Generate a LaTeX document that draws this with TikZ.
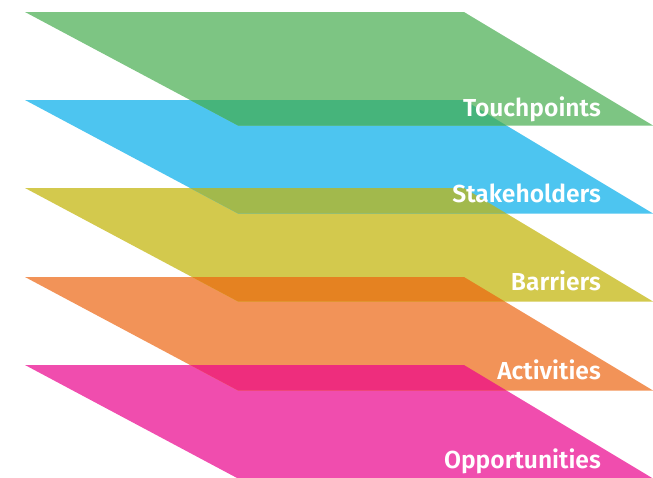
\documentclass[tikz,border=0pt]{standalone}
\usepackage{fontspec}
\setmainfont{Fira Sans}
\newfontfamily\labelfont{Fira Sans SemiBold}
\definecolor{cgreen}{HTML}{7DC583}
\definecolor{cblue}{HTML}{4DC5F0}
\definecolor{cyellow}{HTML}{D3C94D}
\definecolor{corange}{HTML}{F29358}
\definecolor{cpink}{HTML}{F04DAE}
\definecolor{ogb}{HTML}{46B47B}
\definecolor{oby}{HTML}{A2B94C}
\definecolor{oyo}{HTML}{E58221}
\definecolor{oop}{HTML}{EE2D7D}
\begin{document}
\begin{tikzpicture}[x=1pt,y=-1pt,
  lbl/.style={anchor=base east,text=white,font=\labelfont\fontsize{24.6}{28}\selectfont,inner sep=0pt}]
\useasboundingbox (0,0) rectangle (653,477);
\def\H{113.5}
% layers: top y
\foreach \t/\c in {365/cpink, 277/corange, 188/cyellow, 100/cblue, 12/cgreen}{
  \fill[\c] (25,\t) -- (464,\t) -- (653,\t+\H) -- (238,\t+\H) -- cycle;
}
% overlaps: upper top a, lower top b
\foreach \a/\b/\c in {12/100/ogb, 100/188/oby, 188/277/oyo, 277/365/oop}{
  \pgfmathsetmacro\xl{25+213/\H*(\b-\a)}
  \pgfmathsetmacro\xr{464+189/\H*(\a+\H-\b)}
  \fill[\c] (\xl,\b) -- (464,\b) -- (\xr,\a+\H) -- (238,\a+\H) -- cycle;
}
\node[lbl] (t1) at (601,116) {Touchpoints};
\node[lbl] (t2) at (601,202) {Stakeholders};
\node[lbl] (t3) at (601,290) {Barriers};
\node[lbl] (t4) at (601,379) {Activities};
\node[lbl] (t5) at (601,468) {Opportunities};
\end{tikzpicture}
\end{document}
